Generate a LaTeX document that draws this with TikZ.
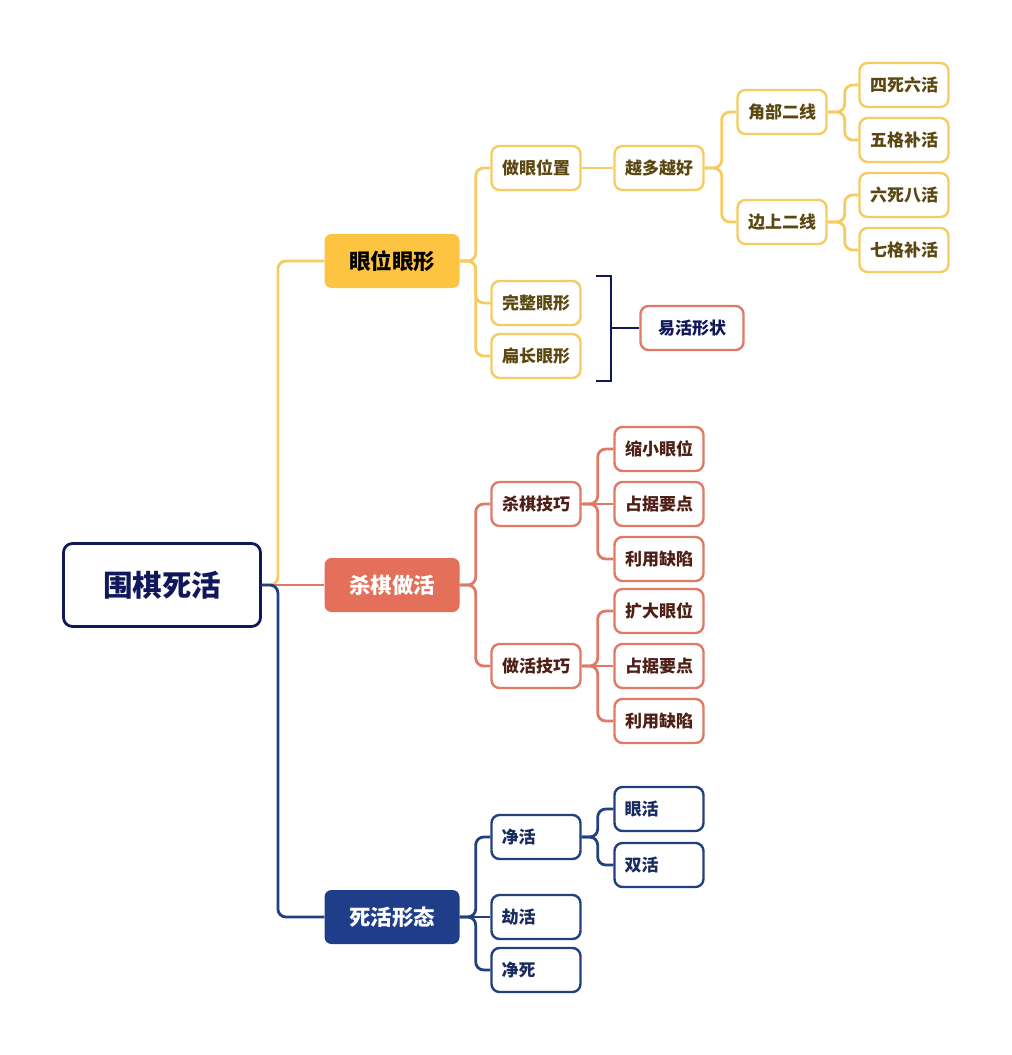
\documentclass[tikz,border=0pt]{standalone}
\usepackage{fontspec}
\newfontfamily\cjk{Noto Sans CJK SC}

\begin{document}
\begin{tikzpicture}[x=1pt,y=-1pt,
  root node/.style={draw=navy,line width=2.8pt,fill=white,rounded corners=9pt,
    minimum width=197pt,minimum height=83pt,text=navy,
    font=\cjk\bfseries\fontsize{29.5}{32}\selectfont},
  main node/.style={rounded corners=7pt,minimum width=135pt,minimum height=54pt,
    inner sep=0pt,font=\cjk\bfseries\fontsize{21.5}{24}\selectfont},
  sub node/.style={draw,fill=white,line width=2.4pt,rounded corners=8pt,
    minimum width=89pt,minimum height=44pt,inner sep=0pt,
    font=\cjk\bfseries\fontsize{17}{20}\selectfont},
  left node/.style={sub node,text width=69pt,inner xsep=10pt,align=left},
  link/.style={line width=2.8pt,rounded corners=8pt}]
  \definecolor{navy}{HTML}{10175A}
  \definecolor{ylfill}{HTML}{FCC440}
  \definecolor{ylline}{HTML}{F6CB62}
  \definecolor{yltext}{HTML}{5B4710}
  \definecolor{rdfill}{HTML}{E46F5A}
  \definecolor{rdline}{HTML}{DE7A66}
  \definecolor{rdtext}{HTML}{4F1F16}
  \definecolor{blfill}{HTML}{1F3D89}
  \definecolor{blline}{HTML}{23407E}
  \definecolor{bltext}{HTML}{1A2B5F}
  \useasboundingbox (0,0) rectangle (1012,1055);

  \node[root node] (root) at (162,585) {围棋死活};

  \node[main node,fill=ylfill,text=black] (yan) at (392,261) {眼位眼形};
  \node[main node,fill=rdfill,text=white] (sha) at (392,585) {杀棋做活};
  \node[main node,fill=blfill,text=white] (si) at (392,917) {死活形态};

  % eye shape branch
  \begin{scope}[every node/.style={sub node,draw=ylline,text=yltext}]
    \node (zuoyan) at (536,168) {做眼位置};
    \node (wanzheng) at (536,303) {完整眼形};
    \node (bianchang) at (536,356) {扁长眼形};
    \node (yueduo) at (659,168) {越多越好};
    \node (jiaobu) at (782,112) {角部二线};
    \node (bianshang) at (782,222) {边上二线};
    \node (sisi) at (904,85) {四死六活};
    \node (wuge) at (904,140) {五格补活};
    \node (liusi) at (904,195) {六死八活};
    \node (qige) at (904,250) {七格补活};
  \end{scope}
  \node[sub node,draw=rdline,text=navy,minimum width=103pt] (yihuo) at (692,328) {易活形状};

  % kill and live branch
  \begin{scope}[every node/.style={sub node,draw=rdline,text=rdtext}]
    \node (shaqi) at (536,504) {杀棋技巧};
    \node (zuohuo) at (536,666) {做活技巧};
    \node (suoxiao) at (659,449) {缩小眼位};
    \node (zhanju) at (659,504) {占据要点};
    \node (liyong) at (659,559) {利用缺陷};
    \node (kuoda) at (659,611) {扩大眼位};
    \node (zhanjub) at (659,666) {占据要点};
    \node (liyongb) at (659,721) {利用缺陷};
  \end{scope}

  % status branch
  \begin{scope}[every node/.style={left node,draw=blline,text=bltext}]
    \node (jinghuo) at (536,837) {净活};
    \node (jiehuo) at (536,917) {劫活};
    \node (jingsi) at (536,970) {净死};
    \node (yanhuo) at (659,809) {眼活};
    \node (shuanghuo) at (659,865) {双活};
  \end{scope}

  % yellow links
  \draw[link,ylline] (root.east) -- ++(16,0) |- (yan.west);
  \foreach \t in {zuoyan,wanzheng,bianchang}
    \draw[link,ylline] (yan.east) -- ++(16,0) |- (\t.west);
  \draw[link,ylline] (zuoyan.east) -- (yueduo.west);
  \foreach \t in {jiaobu,bianshang}
    \draw[link,ylline] (yueduo.east) -- ++(17,0) |- (\t.west);
  \foreach \t in {sisi,wuge}
    \draw[link,ylline] (jiaobu.east) -- ++(17,0) |- (\t.west);
  \foreach \t in {liusi,qige}
    \draw[link,ylline] (bianshang.east) -- ++(17,0) |- (\t.west);

  % red links
  \draw[link,rdline] (root.east) -- (sha.west);
  \foreach \t in {shaqi,zuohuo}
    \draw[link,rdline] (sha.east) -- ++(16,0) |- (\t.west);
  \foreach \t in {suoxiao,liyong}
    \draw[link,rdline] (shaqi.east) -- ++(16,0) |- (\t.west);
  \draw[link,rdline] (shaqi.east) -- (zhanju.west);
  \foreach \t in {kuoda,liyongb}
    \draw[link,rdline] (zuohuo.east) -- ++(16,0) |- (\t.west);
  \draw[link,rdline] (zuohuo.east) -- (zhanjub.west);

  % blue links
  \draw[link,blline] (root.east) -- ++(16,0) |- (si.west);
  \foreach \t in {jinghuo,jingsi}
    \draw[link,blline] (si.east) -- ++(16,0) |- (\t.west);
  \draw[link,blline] (si.east) -- (jiehuo.west);
  \foreach \t in {yanhuo,shuanghuo}
    \draw[link,blline] (jinghuo.east) -- ++(16,0) |- (\t.west);

  % bracket
  \coordinate (brtop) at (596,276);
  \coordinate (brbot) at (596,381);
  \coordinate (brmid) at (611,328);
  \draw[navy,line width=2.4pt] (brtop) -- ++(15,0) |- (brbot);
  \draw[navy,line width=2.4pt] (brmid) -- (yihuo.west);
\end{tikzpicture}
\end{document}
